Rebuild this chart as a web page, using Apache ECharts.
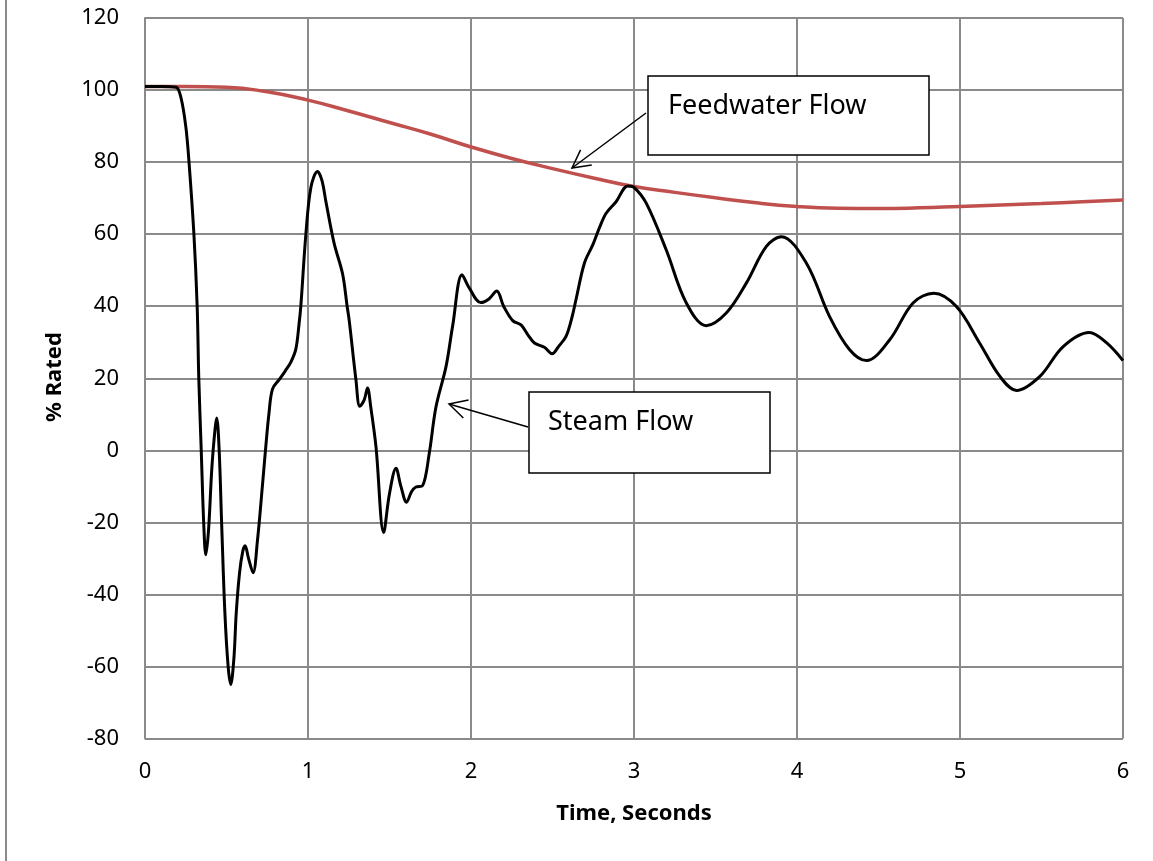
<!DOCTYPE html>
<html>
<head>
<meta charset="utf-8">
<script src="https://cdn.jsdelivr.net/npm/echarts@6/dist/echarts.min.js"></script>
<style>
html,body{margin:0;padding:0;background:#fff;}
#chart{width:1153px;height:861px;}
</style>
</head>
<body>
<div id="chart"></div>
<script>
// ---- data ----
const xTicks = [0, 1, 2, 3, 4, 5, 6];
const yTicks = [-80, -60, -40, -20, 0, 20, 40, 60, 80, 100, 120];

const steamT = [0, 0.1, 0.19, 0.22, 0.25, 0.27, 0.30, 0.32, 0.33, 0.345, 0.36, 0.373, 0.39, 0.41, 0.43, 0.44, 0.455, 0.47, 0.49, 0.51, 0.526, 0.545, 0.56, 0.58, 0.60, 0.614, 0.635, 0.663, 0.69, 0.72, 0.741, 0.76, 0.782, 0.823, 0.86, 0.895, 0.925, 0.945, 0.956, 0.987, 1.018, 1.058, 1.085, 1.11, 1.16, 1.212, 1.24, 1.253, 1.294, 1.318, 1.345, 1.365, 1.385, 1.417, 1.464, 1.50, 1.54, 1.57, 1.605, 1.635, 1.662, 1.703, 1.744, 1.785, 1.847, 1.887, 1.945, 1.99, 2.06, 2.11, 2.158, 2.20, 2.256, 2.307, 2.35, 2.389, 2.45, 2.497, 2.54, 2.583, 2.62, 2.645, 2.696, 2.747, 2.79, 2.829, 2.89, 2.962, 3.0, 3.075, 3.198, 3.32, 3.443, 3.566, 3.689, 3.812, 3.904, 4.057, 4.2, 4.323, 4.426, 4.569, 4.712, 4.839, 4.978, 5.12, 5.245, 5.347, 5.49, 5.633, 5.793, 5.9, 6.0];
const steamV = [101, 101, 100.8, 98, 90, 80, 60, 40, 20, 0, -20, -29, -22, -5, 6, 9, 0, -20, -45, -60, -65, -58, -45, -34, -28, -26.5, -30, -34, -25, -10, 1, 10, 17, 19.6, 22, 24.5, 28, 35, 40, 60, 73, 77.4, 75, 69, 57.5, 49, 40, 36, 19.6, 12.2, 14, 17.3, 12, 1, -22.8, -12, -5, -10, -14.4, -11.5, -10.2, -9.8, -0.8, 12, 23.3, 34.4, 48.7, 45, 41, 42, 44.2, 40, 36, 34.8, 32, 29.8, 28.6, 26.8, 29, 31.6, 37, 42, 52, 57, 62, 65.8, 69, 73.4, 73, 68.6, 55.6, 41, 34.6, 38.1, 46.4, 56.6, 59.3, 52, 37.1, 27.9, 24.9, 30.7, 40.9, 43.6, 39.9, 29.8, 20.5, 16.6, 20.5, 28.8, 32.7, 29.8, 24.9];

const feedT = [0, 0.25, 0.5, 0.75, 1.0, 1.25, 1.5, 1.75, 2.0, 2.25, 2.5, 2.75, 3.0, 3.25, 3.5, 3.75, 4.0, 4.25, 4.5, 4.75, 5.0, 5.25, 5.5, 5.75, 6.0];
const feedV = [101, 101, 100.8, 99.5, 97.2, 94.2, 91.0, 87.8, 84.2, 81.0, 78.2, 75.6, 73.2, 71.6, 70.1, 68.7, 67.7, 67.2, 67.1, 67.3, 67.7, 68.1, 68.5, 69.0, 69.5];

const xTitle = 'Time, Seconds';
const yTitle = '% Rated';
const feedLabel = 'Feedwater Flow';
const steamLabel = 'Steam Flow';

// ---- build ----
const steamData = steamT.map((t, i) => [t, steamV[i]]);
const feedData = feedT.map((t, i) => [t, feedV[i]]);

const FONT = '"Noto Sans", "Open Sans", sans-serif';
const GRID_C = '#8a8a8a';

function arrowHead(tip, from, len, ang) {
  const dx = from[0] - tip[0], dy = from[1] - tip[1];
  const d = Math.sqrt(dx * dx + dy * dy);
  const ux = dx / d, uy = dy / d;
  const a = ang * Math.PI / 180;
  const r1 = [tip[0] + len * (ux * Math.cos(a) - uy * Math.sin(a)), tip[1] + len * (ux * Math.sin(a) + uy * Math.cos(a))];
  const r2 = [tip[0] + len * (ux * Math.cos(-a) - uy * Math.sin(-a)), tip[1] + len * (ux * Math.sin(-a) + uy * Math.cos(-a))];
  return [r1, tip, r2];
}

const fwFrom = [646, 113], fwTip = [572, 168];
const stFrom = [528, 427], stTip = [449, 404];

const chart = echarts.init(document.getElementById('chart'), null, {renderer: 'canvas'});
chart.setOption({
  backgroundColor: '#ffffff',
  animation: false,
  grid: {left: 145, top: 18, right: 30, bottom: 122.5, containLabel: false},
  xAxis: {
    type: 'value', min: 0, max: 6, interval: 1,
    axisLine: {show: true, lineStyle: {color: GRID_C, width: 2}},
    axisTick: {show: false},
    splitLine: {show: true, lineStyle: {color: GRID_C, width: 2}},
    axisLabel: {color: '#000', fontFamily: FONT, fontSize: 22, margin: 22,
      formatter: v => xTicks.indexOf(v) >= 0 ? String(v) : ''}
  },
  yAxis: {
    type: 'value', min: -80, max: 120, interval: 20,
    axisLine: {show: true, lineStyle: {color: GRID_C, width: 2}},
    axisTick: {show: false},
    splitLine: {show: true, lineStyle: {color: GRID_C, width: 2}},
    axisLabel: {color: '#000', fontFamily: FONT, fontSize: 22, margin: 26,
      formatter: v => yTicks.indexOf(v) >= 0 ? String(v) : ''}
  },
  series: [
    {name: feedLabel, type: 'line', data: feedData, smooth: 0.5, showSymbol: false,
      lineStyle: {color: '#C0504D', width: 3.5}, z: 2},
    {name: steamLabel, type: 'line', data: steamData, smooth: 0.35, showSymbol: false,
      lineStyle: {color: '#000000', width: 3}, z: 3}
  ],
  graphic: [
    {type: 'line', shape: {x1: 6, y1: 0, x2: 6, y2: 861}, style: {stroke: GRID_C, lineWidth: 2}},
    {type: 'text', x: 634, y: 814, style: {text: xTitle, font: 'bold 22px ' + FONT, fill: '#000', textAlign: 'center', textVerticalAlign: 'middle'}},
    {type: 'text', x: 55, y: 377, rotation: Math.PI / 2, style: {text: yTitle, font: 'bold 22px ' + FONT, fill: '#000', textAlign: 'center', textVerticalAlign: 'middle'}},
    // Feedwater annotation
    {type: 'rect', shape: {x: 648, y: 76, width: 281, height: 79}, style: {fill: '#fff', stroke: '#000', lineWidth: 1.5}, z: 10},
    {type: 'text', x: 668, y: 106, style: {text: feedLabel, font: '27px ' + FONT, fill: '#000', textAlign: 'left', textVerticalAlign: 'middle'}, z: 11},
    {type: 'line', shape: {x1: fwFrom[0], y1: fwFrom[1], x2: fwTip[0], y2: fwTip[1]}, style: {stroke: '#000', lineWidth: 1.5}, z: 10},
    {type: 'polyline', shape: {points: arrowHead(fwTip, fwFrom, 20, 28)}, style: {stroke: '#000', lineWidth: 1.5, fill: null}, z: 10},
    // Steam annotation
    {type: 'rect', shape: {x: 529, y: 392, width: 241, height: 81}, style: {fill: '#fff', stroke: '#000', lineWidth: 1.5}, z: 10},
    {type: 'text', x: 548, y: 422, style: {text: steamLabel, font: '27px ' + FONT, fill: '#000', textAlign: 'left', textVerticalAlign: 'middle'}, z: 11},
    {type: 'line', shape: {x1: stFrom[0], y1: stFrom[1], x2: stTip[0], y2: stTip[1]}, style: {stroke: '#000', lineWidth: 1.5}, z: 10},
    {type: 'polyline', shape: {points: arrowHead(stTip, stFrom, 20, 28)}, style: {stroke: '#000', lineWidth: 1.5, fill: null}, z: 10}
  ]
});
</script>
</body>
</html>
